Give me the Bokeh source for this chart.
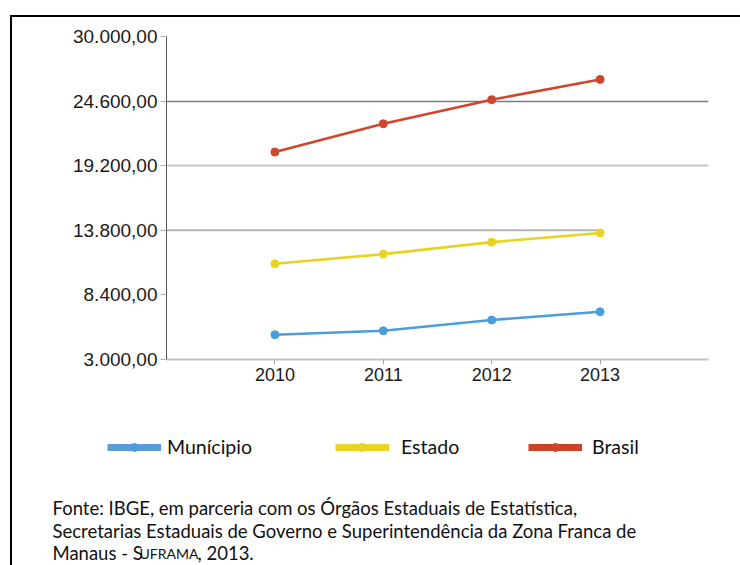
from bokeh.plotting import figure
from bokeh.layouts import column
from bokeh.models import (FixedTicker, CustomJSTickFormatter, Grid, Legend, LegendItem,
                          Label, Range1d)
from bokeh.embed import file_html
from bokeh.resources import INLINE

# ---------------- data ----------------
years = [2010, 2011, 2012, 2013]
municipio = [5070, 5400, 6300, 6990]
estado = [11000, 11810, 12810, 13580]
brasil = [20340, 22710, 24720, 26410]
y_ticks = [3000, 8400, 13800, 19200, 24600, 30000]
series_names = ["Munícipio", "Estado", "Brasil"]
footer_lines = [
    "Fonte: IBGE, em parceria com os Órgãos Estaduais de Estatística,",
    "Secretarias Estaduais de Governo e Superintendência da Zona Franca de",
]
footer_last = ["Manaus - S", "UFRAMA", ", 2013."]

# ---------------- layout ----------------
OX, OY = 12, 17            # page position of the content (inside the black border)
W = 740 - OX
H1 = 400 - OY
H2 = 565 - 400
FRAME_L, FRAME_T, FRAME_W, FRAME_H = 166, 36, 542, 323   # page px

x_start, x_end = 2009, 2014
p = figure(width=W, height=H1, x_range=Range1d(x_start, x_end),
           y_range=Range1d(y_ticks[0], y_ticks[-1]),
           output_backend="svg", toolbar_location=None,
           min_border_left=FRAME_L - OX, min_border_top=FRAME_T - OY,
           min_border_right=W - (FRAME_L - OX) - FRAME_W,
           min_border_bottom=H1 - (FRAME_T - OY) - FRAME_H)
p.frame_align = False
p.outline_line_color = None
p.background_fill_color = "white"
p.border_fill_color = "white"

# axes
p.xaxis.ticker = FixedTicker(ticks=years)
p.xaxis.axis_line_color = "#c4c4c4"
p.xaxis.axis_line_width = 2
p.xaxis.major_tick_line_color = "#a8a8a8"
p.xaxis.major_tick_out = 5
p.xaxis.major_tick_in = 0
p.xaxis.minor_tick_line_color = None
p.xaxis.major_label_text_font = "Liberation Sans"
p.xaxis.major_label_text_font_size = "18px"
p.xaxis.major_label_text_color = "#1a1a1a"
p.xaxis.major_label_standoff = 3

p.yaxis.ticker = FixedTicker(ticks=y_ticks)
p.yaxis.formatter = CustomJSTickFormatter(code="""
const s = Math.round(tick).toString().replace(/\\B(?=(\\d{3})+(?!\\d))/g, ".");
return s + ",00";
""")
p.yaxis.axis_line_color = "#555555"
p.yaxis.axis_line_width = 1
p.yaxis.major_tick_line_color = "#b0b0b0"
p.yaxis.major_tick_out = 6
p.yaxis.major_tick_in = 0
p.yaxis.minor_tick_line_color = None
p.yaxis.major_label_text_font = "Liberation Sans"
p.yaxis.major_label_text_font_size = "19px"
p.yaxis.major_label_text_color = "#1a1a1a"
p.yaxis.major_label_standoff = 3

# grids
p.xgrid.visible = False
p.ygrid.ticker = FixedTicker(ticks=[y_ticks[5], y_ticks[3]])
p.ygrid.grid_line_color = "#c6c6c6"
p.ygrid.grid_line_width = 2
dark_grid = Grid(dimension=1, ticker=FixedTicker(ticks=[y_ticks[4]]),
                 grid_line_color="#7c7c7c", grid_line_width=1.5)
p.add_layout(dark_grid)
p.segment(x0=[x_start], y0=[y_ticks[2]], x1=[years[-1]], y1=[y_ticks[2]],
          line_color="#b4b4b4", line_width=2)

colors = ["#4a9edb", "#e8d420", "#d0452c"]
legend_colors = ["#5b9cd6", "#e8d427", "#cc4329"]
values = [municipio, estado, brasil]
for vals, c in zip(values, colors):
    p.line(years, vals, line_color=c, line_width=2.6)
    p.scatter(years, vals, size=8, fill_color=c, line_color=c)

# ---------------- bottom panel: legend + footer (data units = page px) ----------------
q = figure(width=W, height=H2, x_range=Range1d(OX, 740), y_range=Range1d(565, 400),
           output_backend="svg", toolbar_location=None,
           x_axis_location=None, y_axis_location=None,
           min_border=0, min_border_left=0, min_border_right=0,
           min_border_top=0, min_border_bottom=0)
q.frame_align = False
q.outline_line_color = None
q.xgrid.visible = False
q.ygrid.visible = False
q.background_fill_color = "white"
q.border_fill_color = "white"

legend_x = [107, 335, 528]
standoffs = [6, 12, 10]
LEG_CY = 448
nan = float("nan")
for name, c, lc, lx, so in zip(series_names, colors, legend_colors, legend_x, standoffs):
    thick = q.line(x=[nan, nan], y=[nan, nan], line_color=lc, line_width=7)
    dot = q.scatter(x=[nan], y=[nan], size=8, fill_color=c, line_color=c)
    leg = Legend(items=[LegendItem(label=name, renderers=[thick, dot])],
                 location=(lx - OX, 565 - (LEG_CY + 10)), orientation="horizontal",
                 glyph_width=54, glyph_height=20, label_height=20,
                 label_standoff=so, padding=0, margin=0, spacing=0,
                 border_line_color=None, background_fill_alpha=0,
                 label_text_font="Lato", label_text_font_size="19.5px",
                 label_text_color="#111111", label_text_baseline="middle")
    q.add_layout(leg)

ff = "Lato"
FS = "18.5px"
for i, t in enumerate(footer_lines):
    q.add_layout(Label(x=52, y=507.5 + 22.5 * i, text=t, text_font=ff, text_font_size=FS,
                       text_color="#111111", text_baseline="alphabetic"))
q.add_layout(Label(x=52, y=552.5, text=footer_last[0], text_font=ff, text_font_size=FS,
                   text_color="#111111", text_baseline="alphabetic"))
q.add_layout(Label(x=139, y=552.5, text=footer_last[1], text_font=ff, text_font_size="14px",
                   text_color="#111111", text_baseline="alphabetic"))
q.add_layout(Label(x=197, y=552.5, text=footer_last[2], text_font=ff, text_font_size=FS,
                   text_color="#111111", text_baseline="alphabetic"))

layout = column(p, q, spacing=0, styles={
    "margin-left": "10px", "margin-top": "15px",
    "border-left": "2px solid black", "border-top": "2px solid black",
})

open("out.html", "w").write(file_html(layout, INLINE))
